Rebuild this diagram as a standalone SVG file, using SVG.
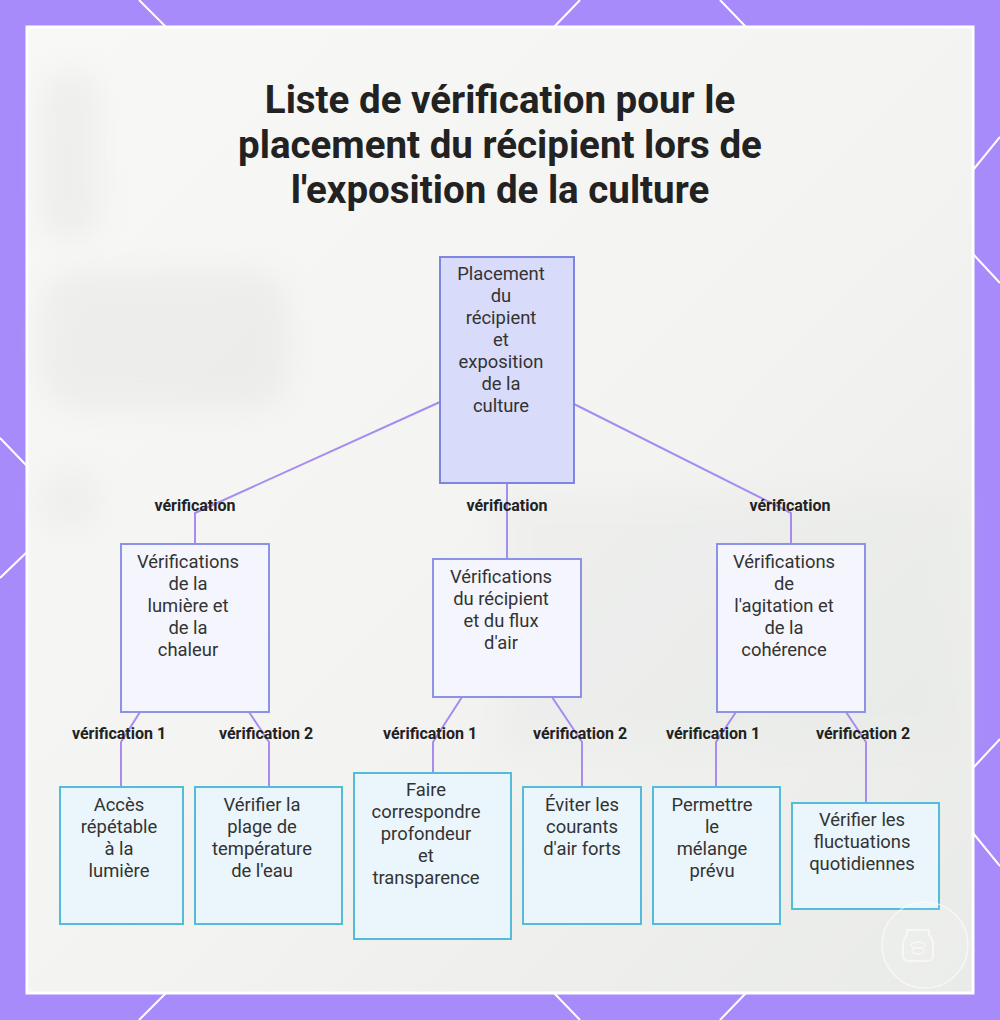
<svg xmlns="http://www.w3.org/2000/svg" width="1000" height="1020" viewBox="0 0 1000 1020">
<defs>
<style>
.title{font-family:Roboto,"Liberation Sans",sans-serif;font-weight:700;font-size:38.5px;fill:#222;text-anchor:middle}
.nt{font-family:Roboto,"Liberation Sans",sans-serif;font-size:18.4px;fill:#333;text-anchor:middle}
.lbl{font-family:Roboto,"Liberation Sans",sans-serif;font-weight:700;font-size:16px;fill:#222;text-anchor:middle}
.root{fill:#d9dbfa;stroke:#7f86e2;stroke-width:2}
.mid{fill:#f5f6fd;stroke:#8c93e6;stroke-width:2}
.leaf{fill:#eaf6fc;stroke:#55bbdd;stroke-width:2}
.edge{fill:none;stroke:#a58cee;stroke-width:2}
.deco{stroke:#ffffff;stroke-width:2;fill:none}
</style>
<linearGradient id="pg" x1="0" y1="0" x2="1" y2="1">
<stop offset="0" stop-color="#f8f8f7"/>
<stop offset="0.55" stop-color="#f3f3f2"/>
<stop offset="1" stop-color="#e9ebe8"/>
</linearGradient>
<filter id="blur" x="-50%" y="-50%" width="200%" height="200%"><feGaussianBlur stdDeviation="14"/></filter>
</defs>
<rect x="0" y="0" width="1000" height="1020" fill="#a78bfa"/>
<g class="deco">
<line x1="139" y1="0" x2="166" y2="27"/>
<line x1="580" y1="0" x2="554" y2="27"/>
<line x1="720" y1="0" x2="746" y2="27"/>
<line x1="166" y1="993" x2="139" y2="1020"/>
<line x1="554" y1="993" x2="580" y2="1020"/>
<line x1="746" y1="993" x2="720" y2="1020"/>
<line x1="0" y1="438" x2="27" y2="466"/>
<line x1="0" y1="578" x2="27" y2="552"/>
<line x1="973" y1="170" x2="1000" y2="137"/>
<line x1="973" y1="254" x2="1000" y2="283"/>
<line x1="973" y1="768" x2="1000" y2="739"/>
<line x1="973" y1="833" x2="1000" y2="866"/>
</g>
<rect x="27" y="27" width="946" height="966" fill="url(#pg)" stroke="#ffffff" stroke-width="3"/>
<g filter="url(#blur)" opacity="0.22">
<rect x="40" y="70" width="60" height="170" rx="30" fill="#cfd2cf"/>
<rect x="40" y="270" width="250" height="140" rx="40" fill="#cfd2cf"/>
<rect x="40" y="470" width="60" height="60" rx="20" fill="#d8dad8"/>
<rect x="500" y="490" width="460" height="260" fill="#dfe3df"/>
</g>
<text class="title" x="500" y="113">Liste de vérification pour le</text>
<text class="title" x="500" y="158">placement du récipient lors de</text>
<text class="title" x="500" y="203">l'exposition de la culture</text>
<g id="connectors">
<polyline class="edge" points="440,402 195,513 195,544"/>
<polyline class="edge" points="507,483 507,559"/>
<polyline class="edge" points="574,404 791,513 791,544"/>
<polyline class="edge" points="140,712 121,742 121,787"/>
<polyline class="edge" points="249,712 269,742 269,787"/>
<polyline class="edge" points="462,697 433,742 433,773"/>
<polyline class="edge" points="552,697 582,742 582,787"/>
<polyline class="edge" points="736,712 716,742 716,787"/>
<polyline class="edge" points="846,712 866,742 866,803"/>
<text class="lbl" x="195" y="511">vérification</text>
<text class="lbl" x="507" y="511">vérification</text>
<text class="lbl" x="790" y="511">vérification</text>
<text class="lbl" x="119" y="739">vérification 1</text>
<text class="lbl" x="266" y="739">vérification 2</text>
<text class="lbl" x="430" y="739">vérification 1</text>
<text class="lbl" x="580" y="739">vérification 2</text>
<text class="lbl" x="713" y="739">vérification 1</text>
<text class="lbl" x="863" y="739">vérification 2</text>
</g>
<g id="root">
<rect class="root" x="440" y="257" width="134" height="226"/>
<text class="nt" x="501" y="280">Placement<tspan x="501" dy="22">du</tspan><tspan x="501" dy="22">récipient</tspan><tspan x="501" dy="22">et</tspan><tspan x="501" dy="22">exposition</tspan><tspan x="501" dy="22">de la</tspan><tspan x="501" dy="22">culture</tspan></text>
</g>
<g id="light-heat">
<rect class="mid" x="121" y="544" width="148" height="168"/>
<text class="nt" x="188" y="568">Vérifications<tspan x="188" dy="22">de la</tspan><tspan x="188" dy="22">lumière et</tspan><tspan x="188" dy="22">de la</tspan><tspan x="188" dy="22">chaleur</tspan></text>
</g>
<g id="container-airflow">
<rect class="mid" x="433" y="559" width="148" height="138"/>
<text class="nt" x="501" y="583">Vérifications<tspan x="501" dy="22">du récipient</tspan><tspan x="501" dy="22">et du flux</tspan><tspan x="501" dy="22">d'air</tspan></text>
</g>
<g id="agitation">
<rect class="mid" x="717" y="544" width="148" height="168"/>
<text class="nt" x="784" y="568">Vérifications<tspan x="784" dy="22">de</tspan><tspan x="784" dy="22">l'agitation et</tspan><tspan x="784" dy="22">de la</tspan><tspan x="784" dy="22">cohérence</tspan></text>
</g>
<g id="leaf-a">
<rect class="leaf" x="60" y="787" width="123" height="137"/>
<text class="nt" x="119" y="811">Accès<tspan x="119" dy="22">répétable</tspan><tspan x="119" dy="22">à la</tspan><tspan x="119" dy="22">lumière</tspan></text>
</g>
<g id="leaf-b">
<rect class="leaf" x="195" y="787" width="147" height="137"/>
<text class="nt" x="262" y="811">Vérifier la<tspan x="262" dy="22">plage de</tspan><tspan x="262" dy="22">température</tspan><tspan x="262" dy="22">de l'eau</tspan></text>
</g>
<g id="leaf-c">
<rect class="leaf" x="354" y="773" width="157" height="166"/>
<text class="nt" x="426" y="796">Faire<tspan x="426" dy="22">correspondre</tspan><tspan x="426" dy="22">profondeur</tspan><tspan x="426" dy="22">et</tspan><tspan x="426" dy="22">transparence</tspan></text>
</g>
<g id="leaf-d">
<rect class="leaf" x="523" y="787" width="118" height="137"/>
<text class="nt" x="582" y="811">Éviter les<tspan x="582" dy="22">courants</tspan><tspan x="582" dy="22">d'air forts</tspan></text>
</g>
<g id="leaf-e">
<rect class="leaf" x="653" y="787" width="127" height="137"/>
<text class="nt" x="712" y="811">Permettre<tspan x="712" dy="22">le</tspan><tspan x="712" dy="22">mélange</tspan><tspan x="712" dy="22">prévu</tspan></text>
</g>
<g id="leaf-f">
<rect class="leaf" x="792" y="803" width="147" height="106"/>
<text class="nt" x="862" y="826">Vérifier les<tspan x="862" dy="22">fluctuations</tspan><tspan x="862" dy="22">quotidiennes</tspan></text>
</g>
<g id="watermark" opacity="0.6">
<circle cx="925" cy="945" r="43" fill="#ffffff" fill-opacity="0.12" stroke="#ffffff" stroke-width="1.5"/>
<path d="M907 930 h22 v5 q4 4 4 10 v10 q0 6 -6 6 h-18 q-6 0 -6 -6 v-10 q0 -6 4 -10 z" fill="none" stroke="#ffffff" stroke-width="2"/>
<ellipse cx="918" cy="945" rx="7" ry="3" fill="none" stroke="#ffffff" stroke-width="1.5"/>
<ellipse cx="918" cy="951" rx="6" ry="3" fill="none" stroke="#ffffff" stroke-width="1.5"/>
</g>
</svg>
